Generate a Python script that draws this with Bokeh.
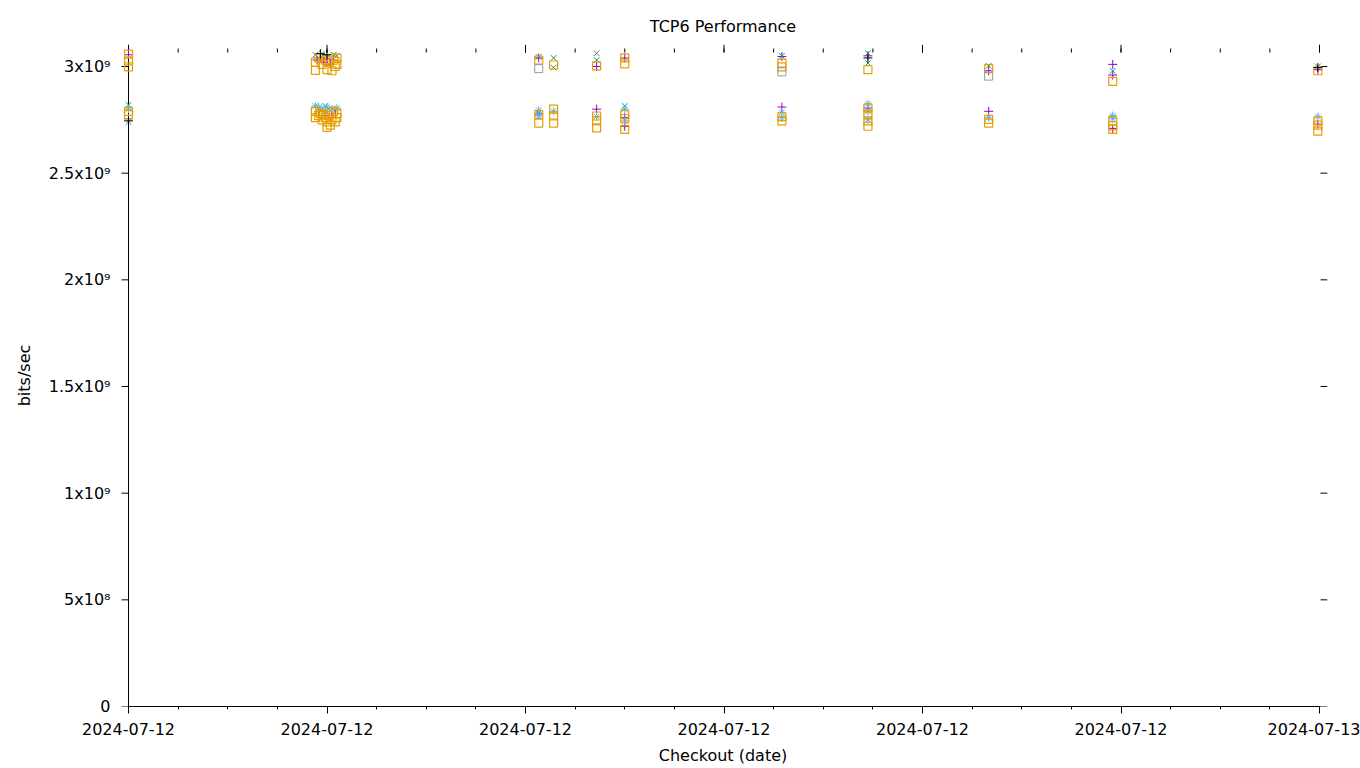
import pandas as pd
from bokeh.plotting import figure
from bokeh.models import (FixedTicker, DatetimeTickFormatter, CustomJSTickFormatter, Range1d)
from bokeh.embed import file_html
from bokeh.resources import INLINE

DAY = "2024-07-12 "
SCALE = 1e9  # values below are in units of 1e9 bits/sec

# ---- data (times on 2024-07-12, values in Gbit/s) ----
purple_t = ["12:00", "12:00",
            "13:54", "13:56", "13:58", "14:00", "14:02", "14:04", "13:55", "13:59", "14:03", "14:05",
            "16:08", "16:08", "16:43", "16:43", "17:00", "17:00", "17:00",
            "18:35", "18:35", "19:27", "19:27", "20:40", "20:40",
            "21:55", "21:55", "21:55", "23:59", "23:59"]
purple_v = [3.055, 2.755,
            3.030, 3.040, 3.020, 3.035, 3.010, 3.030, 2.790, 2.770, 2.760, 2.780,
            3.040, 2.778, 3.000, 2.800, 3.040, 2.720, 2.760,
            3.047, 2.810, 3.050, 2.805, 2.980, 2.790,
            3.010, 2.960, 2.710, 2.985, 2.730]

green_t = ["12:00", "12:00",
           "13:53", "13:57", "14:00", "14:04", "14:06", "13:59", "14:01",
           "16:08", "16:08", "16:17", "16:17", "16:43", "17:00",
           "18:35", "19:27", "19:27", "20:40", "21:55", "23:59"]
green_v = [2.820, 2.740,
           3.055, 3.060, 3.045, 3.055, 3.050, 2.815, 2.800,
           3.045, 2.780, 3.040, 2.995, 3.030, 2.815,
           3.050, 3.062, 3.016, 3.003, 2.980, 3.000]

blue_t = ["12:00",
          "13:53", "13:55", "13:57", "14:00", "14:03", "14:06", "13:59",
          "16:08", "16:08", "16:17", "16:43", "17:00", "17:00",
          "18:35", "18:35", "19:27", "19:27", "19:27", "20:40", "21:55", "21:55", "23:59"]
blue_v = [2.800,
          2.815, 2.810, 2.800, 2.810, 2.800, 2.805, 2.790,
          2.795, 2.770, 2.790, 2.765, 2.800, 2.745,
          2.785, 2.760, 2.825, 2.790, 2.750, 2.760, 2.770, 2.755, 2.765]

orange_t = ["12:00", "12:00", "12:00", "12:00", "12:00",
            "13:53", "13:53", "13:55", "13:57", "13:59", "14:00", "14:01", "14:03", "14:04", "14:05", "14:06", "14:06",
            "13:53", "13:53", "13:55", "13:56", "13:57", "13:58", "13:59", "14:00", "14:00", "14:01", "14:02",
            "14:03", "14:04", "14:05", "14:06", "14:06",
            "16:08", "16:08", "16:08",
            "16:17", "16:17", "16:17", "16:17",
            "16:43", "16:43", "16:43", "16:43",
            "17:00", "17:00", "17:00", "17:00", "17:00",
            "18:35", "18:35", "18:35", "18:35",
            "19:27", "19:27", "19:27", "19:27", "19:27",
            "20:40", "20:40", "20:40",
            "21:55", "21:55", "21:55", "21:55",
            "23:59", "23:59", "23:59", "23:59"]
orange_v = [3.058, 3.026, 2.998, 2.790, 2.775,
            3.020, 2.982, 3.040, 3.010, 3.030, 2.985, 3.020, 2.980, 3.030, 3.000, 3.040, 3.010,
            2.790, 2.760, 2.770, 2.780, 2.750, 2.775, 2.760, 2.715, 2.740, 2.770, 2.725,
            2.750, 2.790, 2.740, 2.760, 2.780,
            3.030, 2.775, 2.735,
            3.007, 2.800, 2.768, 2.735,
            3.003, 2.768, 2.745, 2.712,
            3.040, 3.012, 2.775, 2.755, 2.705,
            3.016, 2.998, 2.765, 2.745,
            2.985, 2.805, 2.776, 2.745, 2.720,
            2.990, 2.752, 2.735,
            2.930, 2.745, 2.722, 2.705,
            2.980, 2.745, 2.725, 2.697]

black_t = ["12:00", "13:56", "14:00", "19:27", "23:59"]
black_v = [2.745, 3.060, 3.055, 3.040, 2.995]

gray_sq_t = ["16:08", "18:35", "20:40"]
gray_sq_v = [2.990, 2.975, 2.955]

gray_x_t = ["16:43"]
gray_x_v = [3.062]

y_ticks = [0, 5e8, 1e9, 1.5e9, 2e9, 2.5e9, 3e9]
Y_TOP = 3.0656e9          # top border of the plot area


# ---- helpers ----
def ms(s):
    return pd.Timestamp(s).value // 10**6


def tx(ts):
    return [pd.Timestamp(DAY + t) for t in ts]


def vy(vs):
    return [v * SCALE for v in vs]


x0 = ms("2024-07-12 12:00")
x1 = ms("2024-07-13 00:00")
major = [int(v.value // 10**6) for v in pd.date_range("2024-07-12 12:00", "2024-07-13 00:00", freq="2h")]
minor = [int(v.value // 10**6) for v in pd.date_range("2024-07-12 12:00", "2024-07-13 00:00", freq="30min")]

# geometry: data area 12:00 -> 24:00 spans 1191 px; frame padded so marks at the edges are not clipped
PX_X = (x1 - x0) / 1191.0
PAD_L, PAD_R = 10, 8
FRAME_W = 1191 + PAD_L + PAD_R
xs = x0 - PAD_L * PX_X
xe = xs + FRAME_W * PX_X
PX_Y = 3e9 / 640.0
FRAME_TOP = 44
FRAME_BOTTOM = 706
ye = (FRAME_BOTTOM - FRAME_TOP) * PX_Y

FONT = "DejaVu Sans"
FS = "16px"

p = figure(width=1360, height=768, x_axis_type="datetime", output_backend="svg",
           toolbar_location=None, x_range=Range1d(xs, xe), y_range=Range1d(0, ye),
           min_border_left=128 - PAD_L, min_border_right=1360 - (128 - PAD_L) - FRAME_W,
           min_border_top=FRAME_TOP, min_border_bottom=768 - FRAME_BOTTOM)
p.title.text = "TCP6 Performance"
p.title.align = "center"
p.title.text_font = FONT
p.title.text_font_size = FS
p.title.text_font_style = "normal"
p.title.text_color = "black"
p.title.standoff = 17
p.outline_line_color = None
p.grid.visible = False
p.background_fill_color = "white"
p.border_fill_color = "white"

xt = FixedTicker(ticks=major, minor_ticks=minor)
fmt = DatetimeTickFormatter(hours="%Y-%m-%d", days="%Y-%m-%d", hourmin="%Y-%m-%d",
                            minutes="%Y-%m-%d", minsec="%Y-%m-%d", seconds="%Y-%m-%d",
                            milliseconds="%Y-%m-%d", months="%Y-%m-%d", years="%Y-%m-%d")
xa = p.xaxis[0]
xa.ticker = xt
xa.formatter = fmt
xa.axis_label = "Checkout (date)"
xa.bounds = (x0, x1 + PX_X)

yt = FixedTicker(ticks=y_ticks, minor_ticks=[])
yfmt = CustomJSTickFormatter(code="""
    if (tick == 0) return "0";
    const sup = ["\u2070","\u00b9","\u00b2","\u00b3","\u2074","\u2075","\u2076","\u2077","\u2078","\u2079"];
    const e = Math.floor(Math.log10(tick) + 1e-9);
    const m = Math.round(tick / Math.pow(10, e) * 100) / 100;
    return m + "x10" + String(e).split("").map(d => sup[+d]).join("");
""")
ya = p.yaxis[0]
ya.ticker = yt
ya.formatter = yfmt
ya.axis_label = "bits/sec"

for ax in (xa, ya):
    ax.axis_line_color = "black"
    ax.axis_line_width = 1
    ax.major_tick_line_color = "black"
    ax.minor_tick_line_color = "black"
    ax.major_tick_in = 0
    ax.major_tick_out = 7
    ax.minor_tick_in = 0
    ax.minor_tick_out = 3
    ax.major_label_text_font = FONT
    ax.major_label_text_font_size = FS
    ax.major_label_text_color = "black"
    ax.axis_label_text_font = FONT
    ax.axis_label_text_font_size = FS
    ax.axis_label_text_font_style = "normal"
    ax.axis_label_text_color = "black"
xa.major_label_standoff = 9
xa.axis_label_standoff = 8
# the y axis sits at the padded frame edge: its line and ticks are drawn as segments at 12:00 below
ya.axis_line_color = None
ya.major_tick_line_color = None
ya.major_tick_out = 0
ya.major_label_standoff = 8
ya.axis_label_standoff = 12

# left border line and its outward ticks
p.segment(x0=[x0], y0=[0], x1=[x0], y1=[Y_TOP], line_color="black", line_width=1)
p.segment(x0=[x0 - 7 * PX_X] * len(y_ticks), y0=y_ticks, x1=[x0] * len(y_ticks), y1=y_ticks,
          line_color="black", line_width=1)
# mirrored tick marks on the top and right borders (outward)
p.segment(x0=major, y0=[Y_TOP] * len(major), x1=major, y1=[ye] * len(major),
          line_color="black", line_width=1)
p.segment(x0=minor, y0=[Y_TOP] * len(minor), x1=minor, y1=[Y_TOP + 4 * PX_Y] * len(minor),
          line_color="black", line_width=1)
p.segment(x0=[x1 + PX_X] * len(y_ticks), y0=y_ticks, x1=[xe] * len(y_ticks), y1=y_ticks,
          line_color="black", line_width=1)

p.scatter(tx(purple_t), vy(purple_v), marker="cross", size=9, line_color="#9400D3", line_width=1)
p.scatter(tx(green_t), vy(green_v), marker="x", size=8, line_color="#009E73", line_width=1)
p.scatter(tx(blue_t), vy(blue_v), marker="asterisk", size=8, line_color="#56B4E9", line_width=1)
p.scatter(tx(orange_t), vy(orange_v), marker="square", size=8, line_color="#E69F00",
          fill_color=None, line_width=1.2)
p.scatter(tx(black_t), vy(black_v), marker="cross", size=9, line_color="black", line_width=1)
p.scatter(tx(gray_sq_t), vy(gray_sq_v), marker="square", size=8, line_color="#999999",
          fill_color=None, line_width=1)
p.scatter(tx(gray_x_t), vy(gray_x_v), marker="x", size=8, line_color="#777777", line_width=1)

open("out.html", "w").write(file_html(p, INLINE))
